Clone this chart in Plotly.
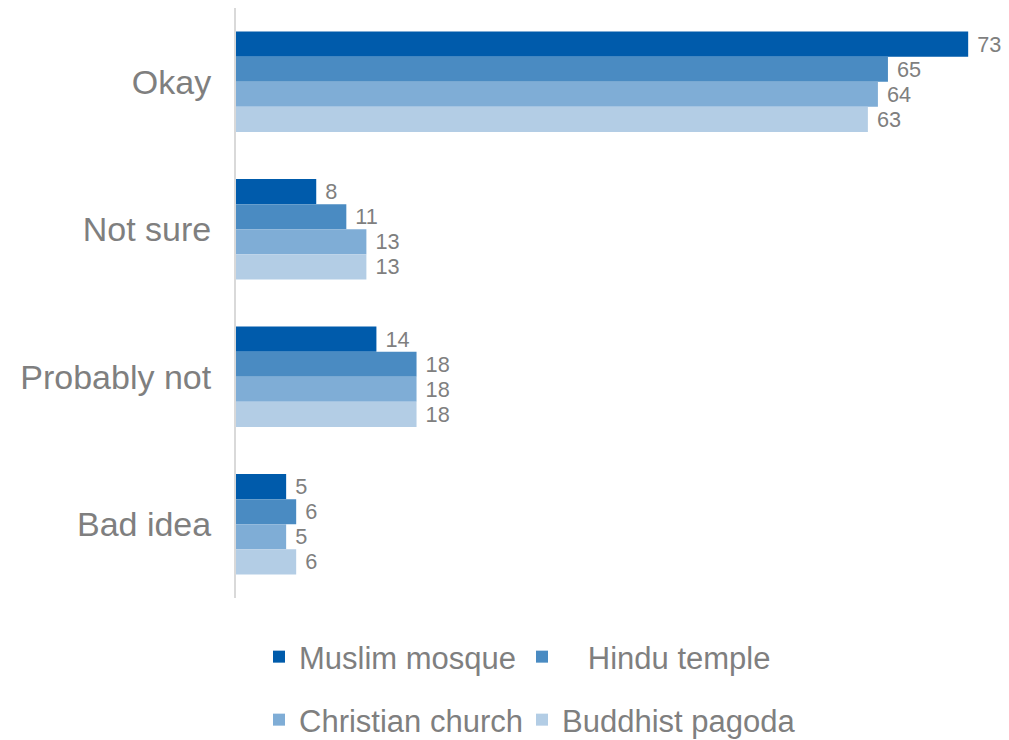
import plotly.graph_objects as go

categories = ["Okay", "Not sure", "Probably not", "Bad idea"]
series_names = ["Muslim mosque", "Hindu temple", "Christian church", "Buddhist pagoda"]
muslim = [73, 8, 14, 5]
hindu = [65, 11, 18, 6]
christian = [64, 13, 18, 5]
buddhist = [63, 13, 18, 6]
colors = ["#005bab", "#4a8bc2", "#7fadd6", "#b3cde5"]

values = [muslim, hindu, christian, buddhist]
legend_names = ["Muslim mosque", "\u00a0\u00a0\u00a0Hindu temple", "Christian church", "Buddhist pagoda"]
legend_ids = ["legend", "legend2", "legend3", "legend4"]

W, H = 1001, 732
gray = "#7f7f7f"
fig = go.Figure()
for name, lname, vals, col, lg in zip(series_names, legend_names, values, colors, legend_ids):
    fig.add_trace(go.Bar(
        y=categories, x=vals, name=lname, orientation="h",
        marker=dict(color=col, line=dict(width=0)),
        texttemplate="\u00a0%{x:.0f}", textposition="outside",
        textfont=dict(size=26, color=gray, family="Liberation Sans"),
        cliponaxis=False, legend=lg,
    ))

leg_common = dict(orientation="h", xref="container", yref="container",
                  xanchor="left", yanchor="middle",
                  font=dict(size=31, color=gray), bgcolor="rgba(0,0,0,0)")
row1, row2 = 1 - 649 / H, 1 - 712 / H
col1, col2 = 251 / W, 514 / W
fig.update_layout(
    width=W, height=H,
    margin=dict(l=228, r=0, t=0, b=142),
    paper_bgcolor="white", plot_bgcolor="white",
    barmode="group", bargap=0.32, bargroupgap=0,
    font=dict(family="Liberation Sans", color=gray),
    showlegend=True,
    legend=dict(leg_common, x=col1, y=row1),
    legend2=dict(leg_common, x=col2, y=row1),
    legend3=dict(leg_common, x=col1, y=row2),
    legend4=dict(leg_common, x=col2, y=row2),
)
fig.update_xaxes(range=[0, 77.07], showgrid=False, zeroline=False, showticklabels=False, showline=False)
fig.update_yaxes(range=[3.5, -0.5], showgrid=False, zeroline=False, showline=True,
                 linecolor="#d9d9d9", linewidth=2, ticks="", ticklabelstandoff=16,
                 tickfont=dict(size=34, color=gray, family="Liberation Sans"))

fig.write_html("out.html")
